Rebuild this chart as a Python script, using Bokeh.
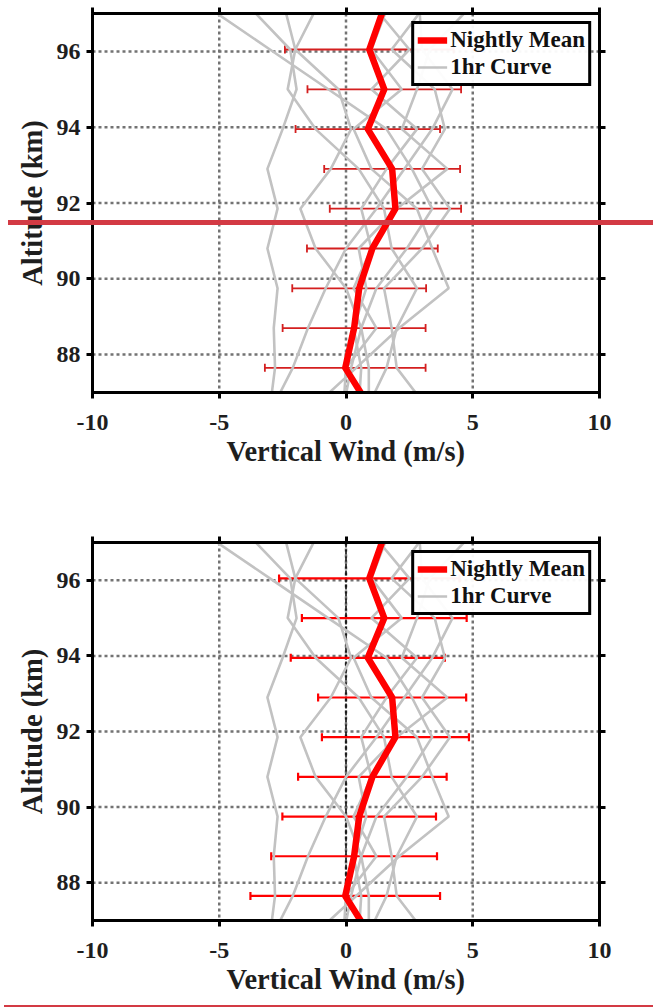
import numpy as np
from bokeh.plotting import figure
from bokeh.layouts import column
from bokeh.models import (Range1d, FixedTicker, Whisker, ColumnDataSource, Legend,
                          LegendItem, Span, BoxAnnotation, LinearAxis, TeeHead, Div)
from bokeh.embed import file_html
from bokeh.resources import INLINE

# ---------------- data ----------------
altitude_km = [86.6, 87.65, 88.7, 89.75, 90.8, 91.85, 92.9, 93.95, 95.0, 96.05, 97.1]
nightly_mean = [0.95, -0.03, 0.32, 0.52, 1.04, 1.95, 1.82, 0.86, 1.51, 0.92, 1.47]
err_top_panel = [3.2, 3.17, 2.82, 2.64, 2.58, 2.59, 2.68, 2.85, 3.03, 3.33, 3.3]
err_bottom_panel = [3.7, 3.74, 3.27, 3.03, 2.93, 2.9, 2.92, 3.04, 3.25, 3.56, 3.5]
err_levels = [87.65, 88.7, 89.75, 90.8, 91.85, 92.9, 93.95, 95.0, 96.05]

hour_1 = [-3.0, -2.8, -2.85, -2.7, -3.1, -2.7, -3.1, -2.5, -1.95, -2.2, -3.7]
hour_2 = [0.9, 0.9, 0.6, 1.2, 2.4, 3.4, 2.6, 1.6, -0.7, -3.0, -5.3]
hour_3 = [-2.9, -2.1, -1.5, -0.8, 0.0, 1.2, 2.3, 3.4, 4.2, 3.0, 2.9]
hour_4 = [-0.1, 0.2, 0.6, 0.0, -1.2, -1.8, -0.6, 0.2, -0.3, -2.0, -2.4]
hour_5 = [0.85, 1.6, 2.0, 2.8, 1.8, 1.5, 0.5, -1.2, -2.3, -2.0, -1.2]
hour_6 = [-1.3, 0.4, 2.1, 4.05, 3.4, 2.8, 1.0, 0.3, 2.2, 1.0, 1.6]
hour_7 = [3.2, 2.0, 1.8, 1.5, 3.0, 4.1, 3.0, 3.9, 3.5, 1.8, 3.0]
hour_8 = [0.5, 0.6, 0.3, 0.8, 0.5, 2.0, 4.0, 2.2, 2.8, 3.3, 4.8]
hour_9 = [-0.1, 0.0, 1.2, 0.3, 1.0, 0.6, 1.6, 2.8, 1.0, 2.5, 1.2]
hourly_curves = [hour_1, hour_2, hour_3, hour_4, hour_5, hour_6, hour_7, hour_8, hour_9]

x_ticks = [-10, -5, 0, 5, 10]
x_tick_labels = {-10: "-10", -5: "-5", 0: "0", 5: "5", 10: "10"}
y_ticks = [88, 90, 92, 94, 96]

FONT = "Liberation Serif"
STRIPE = "#d33a44"


def make_panel(err_half, err_color, err_width, zero_dashed, height, bottom_border):
    p = figure(width=653, height=height, x_range=Range1d(-10, 10), y_range=Range1d(87, 97),
               output_backend="svg", toolbar_location=None,
               min_border_left=92, min_border_right=54, min_border_top=13,
               min_border_bottom=bottom_border, x_axis_location=None, y_axis_location=None)
    p.outline_line_color = "black"
    p.outline_line_width = 3
    p.background_fill_color = "white"
    p.border_fill_color = "white"

    for side in ("below", "left", "above", "right"):
        ax = LinearAxis()
        ax.ticker = FixedTicker(ticks=x_ticks if side in ("below", "above") else y_ticks)
        ax.axis_line_color = "black"
        ax.axis_line_width = 3
        ax.major_tick_line_color = "black"
        ax.major_tick_line_width = 3
        ax.major_tick_out = 6
        ax.major_tick_in = 0
        ax.minor_tick_line_color = None
        ax.major_label_text_font = FONT
        ax.major_label_text_font_style = "bold"
        ax.major_label_text_font_size = "24px"
        ax.major_label_text_color = "#1e1e1e"
        ax.axis_label_text_font = FONT
        ax.axis_label_text_font_style = "bold"
        ax.axis_label_text_font_size = "28.5px"
        ax.axis_label_text_color = "#1e1e1e"
        if side in ("above", "right"):
            ax.major_label_text_font_size = "1px"
            ax.major_label_text_color = None
            ax.major_label_standoff = 0
        if side == "below":
            ax.axis_label = "Vertical Wind (m/s)"
            ax.major_label_overrides = x_tick_labels
            ax.major_label_standoff = 16
            ax.axis_label_standoff = 3
        if side == "left":
            ax.axis_label = "Altitude (km)"
            ax.major_label_standoff = 6
            ax.axis_label_standoff = 6
        p.add_layout(ax, side)

    p.grid.visible = False
    for t in x_ticks[1:-1]:
        p.add_layout(Span(location=t, dimension="height", line_color="#737373",
                          line_width=2.5, line_dash="3 3", level="underlay"))
    for t in y_ticks:
        p.add_layout(Span(location=t, dimension="width", line_color="#737373",
                          line_width=2.5, line_dash="3 3", level="underlay"))
    if zero_dashed:
        p.add_layout(Span(location=0, dimension="height", line_color="black",
                          line_width=1.5, line_dash="5 2", level="underlay"))

    gray_r = None
    for curve in hourly_curves:
        gray_r = p.line(curve, altitude_km, line_color="#c2c2c2", line_width=2.6)
    red_r = p.line(nightly_mean, altitude_km, line_color="#ff0000", line_width=6.5,
                   line_join="round")

    lvl = np.array(err_levels)
    mean_at = np.interp(lvl, altitude_km, nightly_mean)
    half = np.interp(lvl, altitude_km, err_half)
    src = ColumnDataSource(dict(alt=lvl, lo=mean_at - half, hi=mean_at + half))
    w = Whisker(base="alt", lower="lo", upper="hi", dimension="width", source=src,
                line_color=err_color, line_width=err_width,
                upper_head=TeeHead(size=8, line_color=err_color, line_width=err_width),
                lower_head=TeeHead(size=8, line_color=err_color, line_width=err_width))
    p.add_layout(w)

    legend = Legend(items=[LegendItem(label="Nightly Mean", renderers=[red_r]),
                           LegendItem(label="1hr Curve", renderers=[gray_r])],
                    location="top_right")
    legend.label_text_font = FONT
    legend.label_text_font_style = "bold"
    legend.label_text_font_size = "23px"
    legend.label_text_color = "#111111"
    legend.border_line_color = "black"
    legend.border_line_alpha = 1
    legend.border_line_width = 3
    legend.glyph_width = 30
    legend.glyph_height = 22
    legend.label_height = 22
    legend.label_standoff = 3
    legend.padding = 3
    legend.spacing = 1
    legend.margin = 8
    p.add_layout(legend)
    return p


top = make_panel(err_top_panel, "#d41f1f", 1.8, False, 529, 137)
top.add_layout(BoxAnnotation(left=8, right=653, top=220, bottom=224.5,
                             left_units="canvas", right_units="canvas",
                             top_units="canvas", bottom_units="canvas",
                             fill_color=STRIPE, fill_alpha=1, line_alpha=0, level="overlay"))
bottom = make_panel(err_bottom_panel, "#ff0000", 2.2, True, 476, 85)

stripe = Div(text='<div style="position:fixed;left:8px;top:220px;width:645px;height:4.5px;'
                  'background:%s;z-index:1000;"></div>' % STRIPE,
             width=649, height=2, margin=(0, 0, 0, 4),
             styles={"background-color": STRIPE})

layout = column(top, bottom, stripe, spacing=0)
open("out.html", "w").write(file_html(layout, INLINE))
